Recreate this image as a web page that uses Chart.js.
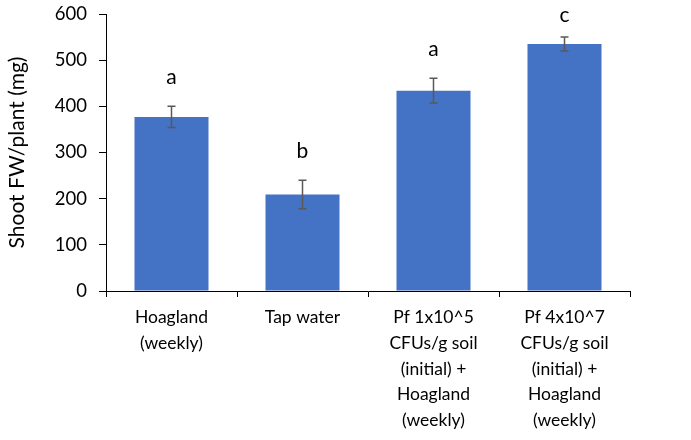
<!DOCTYPE html>
<html>
<head>
<meta charset="utf-8">
<script src="https://cdn.jsdelivr.net/npm/chart.js@4/dist/chart.umd.min.js"></script>
<style>
  html, body { margin: 0; padding: 0; background: #ffffff; }
  #wrap { width: 691px; height: 440px; }
</style>
</head>
<body>
<div id="wrap"><canvas id="c" width="691" height="440"></canvas></div>
<script>
// Shoot fresh weight per plant by treatment
const categories = [
  ['Hoagland', '(weekly)'],
  ['Tap water'],
  ['Pf 1x10^5', 'CFUs/g soil', '(initial) +', 'Hoagland', '(weekly)'],
  ['Pf 4x10^7', 'CFUs/g soil', '(initial) +', 'Hoagland', '(weekly)']
];
const shootFW = [377, 209, 434, 535];
const errorSD = [23, 31, 27, 15];
const groupLetters = ['a', 'b', 'a', 'c'];
const yTicks = [0, 100, 200, 300, 400, 500, 600];

const FONT = 'Lato, "Open Sans", sans-serif';

// Error bars with caps, drawn from the y scale
const errorBarPlugin = {
  id: 'errorBars',
  afterDatasetsDraw(chart) {
    const ctx = chart.ctx;
    const y = chart.scales.y;
    const meta = chart.getDatasetMeta(0);
    ctx.save();
    ctx.strokeStyle = '#595959';
    ctx.lineWidth = 1.5;
    meta.data.forEach((bar, i) => {
      const v = shootFW[i], e = errorSD[i];
      const x = bar.x;
      const yTop = y.getPixelForValue(v + e);
      const yBot = y.getPixelForValue(v - e);
      ctx.beginPath();
      ctx.moveTo(x, yTop); ctx.lineTo(x, yBot);
      ctx.moveTo(x - 4, yTop); ctx.lineTo(x + 4, yTop);
      ctx.moveTo(x - 4, yBot); ctx.lineTo(x + 4, yBot);
      ctx.stroke();
    });
    ctx.restore();
  }
};

// Significance letters above each error bar, kept inside the top margin
const letterPlugin = {
  id: 'groupLetters',
  afterDatasetsDraw(chart) {
    const ctx = chart.ctx;
    const y = chart.scales.y;
    const meta = chart.getDatasetMeta(0);
    ctx.save();
    ctx.fillStyle = '#000000';
    ctx.font = '21px ' + FONT;
    ctx.textAlign = 'center';
    ctx.textBaseline = 'middle';
    meta.data.forEach((bar, i) => {
      const yTop = y.getPixelForValue(shootFW[i] + errorSD[i]);
      ctx.fillText(groupLetters[i], bar.x, Math.max(yTop - 29, 15));
    });
    ctx.restore();
  }
};

new Chart(document.getElementById('c'), {
  type: 'bar',
  data: {
    labels: categories,
    datasets: [{
      data: shootFW,
      backgroundColor: '#4472C4',
      borderWidth: 0,
      categoryPercentage: 1.0,
      barPercentage: 0.565
    }]
  },
  options: {
    responsive: false,
    animation: false,
    layout: { padding: { top: 14, right: 61, left: 0, bottom: 0 } },
    plugins: {
      legend: { display: false },
      tooltip: { enabled: false }
    },
    scales: {
      x: {
        grid: {
          display: true,
          drawOnChartArea: false,
          drawTicks: true,
          tickLength: 6,
          color: '#000000',
          offset: true
        },
        border: { display: true, color: '#000000', width: 1 },
        ticks: {
          color: '#000000',
          font: { family: FONT, size: 17.5, lineHeight: 1.46 },
          padding: 8,
          maxRotation: 0,
          autoSkip: false
        },
        afterFit(scale) {
          scale.height = 149;
          scale.paddingLeft = 0;
          scale.paddingRight = 0;
        }
      },
      y: {
        min: 0,
        max: 600,
        afterBuildTicks(scale) { scale.ticks = yTicks.map(v => ({ value: v })); },
        grid: {
          display: true,
          drawOnChartArea: false,
          drawTicks: true,
          tickLength: 7,
          color: '#000000'
        },
        border: { display: true, color: '#000000', width: 1 },
        ticks: {
          color: '#000000',
          font: { family: FONT, size: 18.5 },
          padding: 12
        },
        title: {
          display: true,
          text: 'Shoot FW/plant (mg)',
          color: '#000000',
          font: { family: FONT, size: 21 },
          padding: { top: 5, bottom: 6 }
        },
        afterFit(scale) {
          scale.width = 106;
          scale.paddingTop = 0;
          scale.paddingBottom = 0;
        }
      }
    }
  },
  plugins: [errorBarPlugin, letterPlugin]
});
</script>
</body>
</html>
